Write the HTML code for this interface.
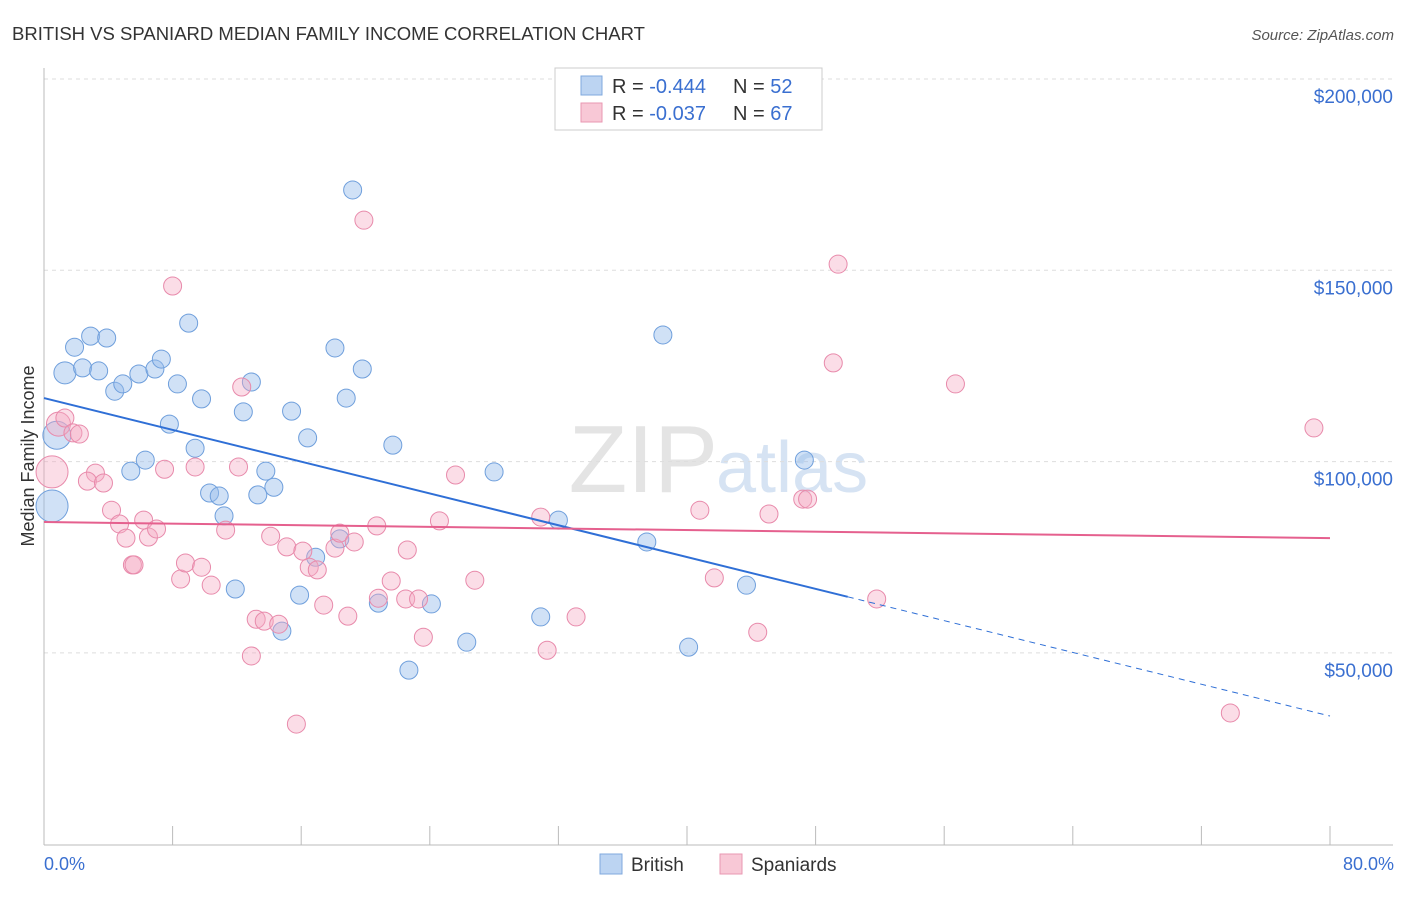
<!DOCTYPE html>
<html><head><meta charset="utf-8"><style>
body{margin:0;background:#fff;font-family:"Liberation Sans",sans-serif;}
svg text{font-family:"Liberation Sans",sans-serif;}
</style></head><body>
<svg id="chart" width="1406" height="892">
<text x="12" y="40" font-size="18.5" fill="#333" textLength="633" lengthAdjust="spacingAndGlyphs">BRITISH VS SPANIARD MEDIAN FAMILY INCOME CORRELATION CHART</text>
<text x="1394" y="40" font-size="15" fill="#555" font-style="italic" text-anchor="end">Source: ZipAtlas.com</text>
<text x="718" y="492" font-size="96" fill="#e4e4e4" text-anchor="end" font-family="Liberation Serif">ZIP</text>
<text x="716" y="492" font-size="72" fill="#d6e3f3">atlas</text>
<g id="grid"></g><g id="axes"></g><g id="pts"></g><g id="trends"></g>
<text transform="translate(34,456) rotate(-90)" font-size="18" fill="#333" text-anchor="middle">Median Family Income</text>
<text x="44" y="870" font-size="18" fill="#3a6fd0">0.0%</text>
<text x="1394" y="870" font-size="18" fill="#3a6fd0" text-anchor="end">80.0%</text>
<g>
<rect x="555" y="68" width="267" height="62" fill="#fff" stroke="#ccc"/>
<rect x="581" y="76" width="21" height="19" fill="#bcd4f2" stroke="#7fa8de"/>
<rect x="581" y="103" width="21" height="19" fill="#f8c8d6" stroke="#e997b2"/>
<text x="612" y="93" font-size="20" fill="#333">R = <tspan fill="#3a6fd0">-0.444</tspan><tspan x="733">N = </tspan><tspan fill="#3a6fd0">52</tspan></text>
<text x="612" y="120" font-size="20" fill="#333">R = <tspan fill="#3a6fd0">-0.037</tspan><tspan x="733">N = </tspan><tspan fill="#3a6fd0">67</tspan></text>
</g>
<g>
<rect x="600" y="854" width="22" height="20" fill="#bcd4f2" stroke="#7fa8de"/>
<text x="631" y="871" font-size="19" fill="#333">British</text>
<rect x="720" y="854" width="22" height="20" fill="#f8c8d6" stroke="#e997b2"/>
<text x="751" y="871" font-size="19" fill="#333">Spaniards</text>
</g>
</svg>
<script>
const yTicks=[50000,100000,150000,200000];
const yTickLabels=["$50,000","$100,000","$150,000","$200,000"];
const xTicks=[0,8,16,24,32,40,48,56,64,72,80];
const britishX=[1.3,0.8,0.5,1.9,2.9,3.9,2.4,3.4,4.4,4.9,5.9,6.9,7.3,9.0,8.3,9.8,7.8,9.4,6.3,5.4,10.3,10.9,11.2,12.4,12.9,15.4,16.4,18.1,18.8,19.8,19.2,21.7,13.8,14.3,13.3,16.9,18.4,11.9,15.9,14.8,20.8,24.1,22.7,26.3,28.0,32.0,30.9,37.5,38.5,43.7,40.1,47.3];
const britishY=[123200,106900,88400,129900,132800,132300,124500,123700,118400,120300,122900,124200,126800,136200,120300,116400,109800,103500,100400,97500,91800,91000,85800,113000,120800,113200,106200,129700,116600,124200,171000,104300,97500,93300,91300,75000,79800,66700,65100,55700,63000,62800,45500,52800,97300,84700,59400,79000,133100,67700,51500,100400];
const britishR=[11,14,16,9,9,9,9,9,9,9,9,9,9,9,9,9,9,9,9,9,9,9,9,9,9,9,9,9,9,9,9,9,9,9,9,9,9,9,9,9,9,9,9,9,9,9,9,9,9,9,9,9];
const spanX=[0.5,0.9,1.3,1.8,2.2,3.2,2.7,3.7,4.2,4.7,5.1,5.5,6.2,6.5,7.0,7.5,8.0,8.5,8.8,9.4,9.8,10.4,11.3,12.1,12.3,12.9,13.2,13.7,14.6,14.1,15.1,15.7,16.1,16.5,17.0,17.4,18.1,18.4,18.9,19.3,19.9,20.7,20.8,21.6,22.5,22.6,23.3,23.6,24.6,25.6,26.8,30.9,31.3,33.1,40.8,41.7,44.4,45.1,47.2,47.5,49.1,49.4,51.8,56.7,73.8,79.0,5.6];
const spanY=[97300,109800,111400,107500,107200,97000,94900,94400,87300,83700,80000,73000,84700,80300,82400,98000,145900,69300,73500,98600,72400,67700,82100,98600,119500,49200,58800,58300,57500,80500,77700,31400,76600,72400,71700,62500,77400,81300,59600,79000,163100,83200,64300,68800,64100,76900,64100,54100,84500,96500,69000,85500,50700,59400,87300,69600,55400,86300,90200,90200,125800,151600,64100,120300,34300,108800,73000];
const spanR=[16,12,9,9,9,9,9,9,9,9,9,9,9,9,9,9,9,9,9,9,9,9,9,9,9,9,9,9,9,9,9,9,9,9,9,9,9,9,9,9,9,9,9,9,9,9,9,9,9,9,9,9,9,9,9,9,9,9,9,9,9,9,9,9,9,9,9];
const britishTrend=[116600,33500];
const britishSolidEnd=50;
const spanTrend=[84200,80000];
const X=p=>44+p/80*1286;
const Y=v=>844.2-v/200000*765.2;
const NS="http://www.w3.org/2000/svg";
function mk(tag,attrs,parent){const e=document.createElementNS(NS,tag);for(const k in attrs)e.setAttribute(k,attrs[k]);parent.appendChild(e);return e;}
const grid=document.getElementById('grid'),axes=document.getElementById('axes'),pts=document.getElementById('pts'),tr=document.getElementById('trends');
yTicks.forEach((v,i)=>{
 const l=mk('line',{x1:44,x2:1393,y1:Y(v),y2:Y(v),stroke:'#ddd','stroke-dasharray':'4,4'},grid);
 
 
 const t=mk('text',{x:1393,y:Y(v)+24,'font-size':19,fill:'#3a6fd0','text-anchor':'end'},grid);
 t.textContent=yTickLabels[i];
 
 
});
const yax=mk('line',{x1:44,x2:44,y1:68,y2:845,stroke:'#bbb'},axes);


const xax=mk('line',{x1:44,x2:1393,y1:845,y2:845,stroke:'#bbb'},axes);


xTicks.forEach(p=>{
 const t=mk('line',{x1:X(p),x2:X(p),y1:826,y2:845,stroke:'#bbb'},axes);
 
 
});
britishX.forEach((p,i)=>{
 const c=mk('circle',{cx:X(p),cy:Y(britishY[i]),r:britishR[i],fill:'rgba(150,188,236,0.45)',stroke:'#6f9fdc','stroke-width':1},pts);
 
 
});
spanX.forEach((p,i)=>{
 const c=mk('circle',{cx:X(p),cy:Y(spanY[i]),r:spanR[i]||9,fill:'rgba(244,170,195,0.4)',stroke:'#e88aab','stroke-width':1},pts);
 
 
});
const bAt=p=>britishTrend[0]+(britishTrend[1]-britishTrend[0])*p/80;
const b1=mk('line',{x1:X(0),y1:Y(bAt(0)),x2:X(britishSolidEnd),y2:Y(bAt(britishSolidEnd)),stroke:'#2f6fd6','stroke-width':2},tr);


const b2=mk('line',{x1:X(britishSolidEnd),y1:Y(bAt(britishSolidEnd)),x2:X(80),y2:Y(bAt(80)),stroke:'#2f6fd6','stroke-width':1,'stroke-dasharray':'6,5'},tr);


const s1=mk('line',{x1:X(0),y1:Y(spanTrend[0]),x2:X(80),y2:Y(spanTrend[1]),stroke:'#e5608e','stroke-width':2},tr);


</script>
</body></html>
